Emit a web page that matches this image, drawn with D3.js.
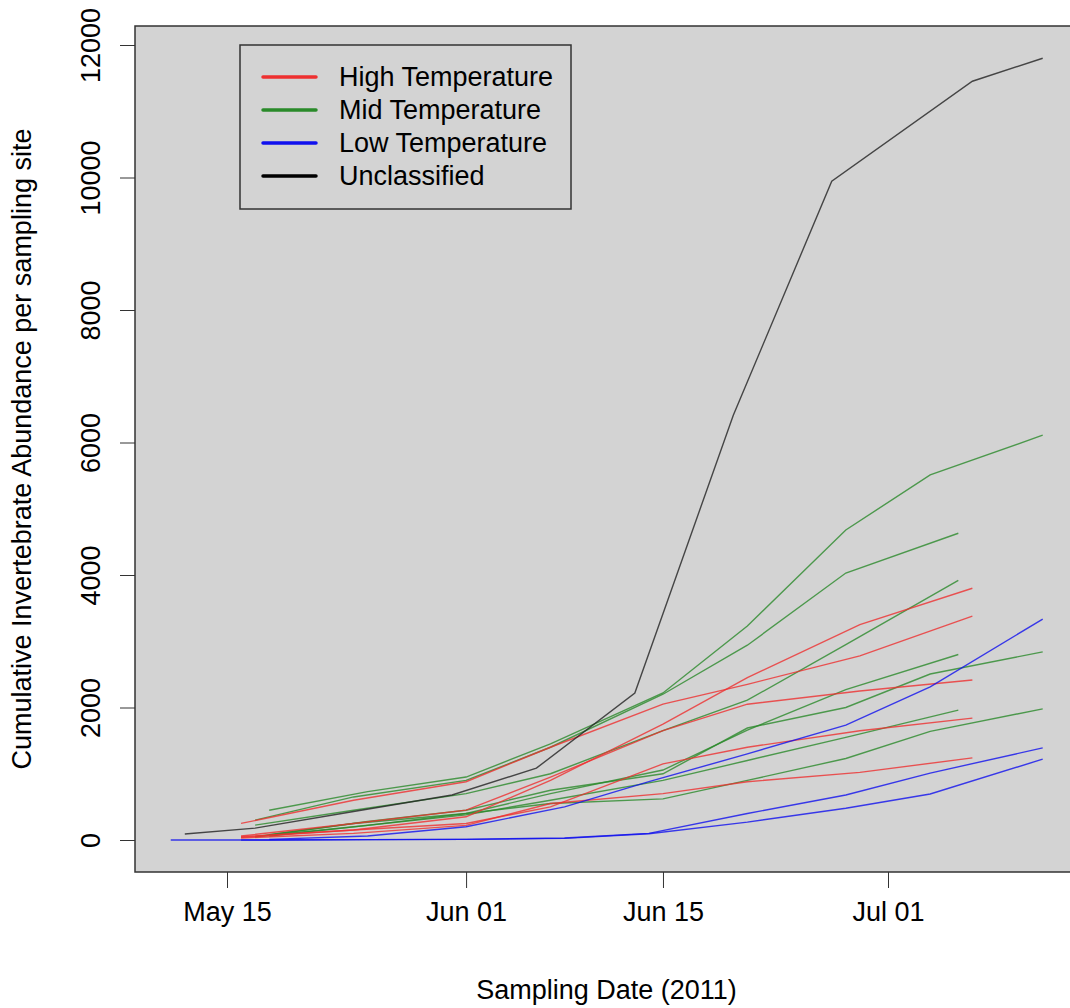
<!DOCTYPE html>
<html>
<head>
<meta charset="utf-8">
<script src="https://cdn.jsdelivr.net/npm/d3@7"></script>
<style>
  body { margin: 0; background: #fff; }
  text { font-family: "Liberation Sans", Arial, sans-serif; fill: #000; }
</style>
</head>
<body>
<div class="chart"></div>
<script>
// sampling dates (2011) and cumulative abundance per site
const highDates = ['2011-05-16', '2011-05-24', '2011-06-01', '2011-06-07', '2011-06-15', '2011-06-21', '2011-06-29', '2011-07-07'];
const highSites = [
    [50, 150, 350, 900, 1750, 2450, 3250, 3800],
    [250, 600, 880, 1400, 2050, 2350, 2780, 3380],
    [60, 250, 450, 950, 1650, 2050, 2250, 2415],
    [40, 150, 250, 500, 1150, 1400, 1650, 1840],
    [30, 100, 220, 550, 700, 880, 1020, 1240]
];

const midDatesA = ['2011-05-17', '2011-05-24', '2011-06-01', '2011-06-07', '2011-06-15', '2011-06-21', '2011-06-28', '2011-07-06'];
const midSitesA = [
    [300, 650, 900, 1400, 2200, 2940, 4030, 4630],
    [225, 450, 700, 1000, 1650, 2110, 2950, 3920],
    [50, 250, 400, 700, 1056, 1660, 2270, 2800],
    [50, 200, 380, 600, 900, 1200, 1550, 1960]
];

const midDatesB = ['2011-05-18', '2011-05-25', '2011-06-01', '2011-06-07', '2011-06-15', '2011-06-21', '2011-06-28', '2011-07-04', '2011-07-12'];
const midSitesB = [
    [450, 730, 950, 1450, 2220, 3230, 4680, 5510, 6110],
    [80, 280, 450, 750, 1000, 1690, 2000, 2505, 2840],
    [60, 220, 400, 550, 620, 900, 1230, 1640, 1980]
];

// null = site not yet sampled
const lowDates = ['2011-05-11', '2011-05-16', '2011-05-18', '2011-05-25', '2011-06-01', '2011-06-08', '2011-06-14', '2011-06-21', '2011-06-28', '2011-07-04', '2011-07-12'];
const lowSites = [
    [null, null, 10, 60, 200, 500, 880, 1300, 1735, 2310, 3335],
    [0, 0, 0, 5, 10, 30, 100, 400, 680, 1010, 1390],
    [null, 0, 0, 5, 10, 25, 95, 270, 480, 695, 1220]
];

const unclassDates = ['2011-05-12', '2011-05-17', '2011-05-24', '2011-05-31', '2011-06-06', '2011-06-13', '2011-06-20', '2011-06-27', '2011-07-07', '2011-07-12'];
const unclassSites = [
    [90, 180, 430, 680, 1085, 2218, 6410, 9945, 11453, 11800]
];

const yTicks = [0, 2000, 4000, 6000, 8000, 10000, 12000];
const xTicks = ['2011-05-15', '2011-06-01', '2011-06-15', '2011-07-01'];
const legendLabels = ['High Temperature', 'Mid Temperature', 'Low Temperature', 'Unclassified'];
const legendColors = ['#ee3030', '#2a8a2a', '#1010ee', '#000000'];

const parseDate = d3.timeParse('%Y-%m-%d');
const fontSize = '27px';

// turn a date list + value lists into arrays of points
function toSeries(dates, sites, color) {
    return sites.map(values => ({
        color: color,
        points: values.map((v, i) => ({ date: parseDate(dates[i]), value: v }))
    }));
}

const series = [
    ...toSeries(midDatesA, midSitesA, legendColors[1]),
    ...toSeries(midDatesB, midSitesB, legendColors[1]),
    ...toSeries(highDates, highSites, legendColors[0]),
    ...toSeries(lowDates, lowSites, legendColors[2]),
    ...toSeries(unclassDates, unclassSites, '#222')
];

const width = 1070;
const height = 1008;
const plot = { left: 135, right: 1078, top: 26, bottom: 872 };

const svg = d3.select('.chart')
    .append('svg')
    .attr('width', width)
    .attr('height', height);

// scales
const xScale = d3.scaleTime()
    .domain([parseDate('2011-05-15'), parseDate('2011-07-01')])
    .range([227, 888]);

const yScale = d3.scaleLinear()
    .domain([0, 12000])
    .range([840, 45]);

// plot background
svg.append('rect')
    .attr('x', plot.left)
    .attr('y', plot.top)
    .attr('width', plot.right - plot.left)
    .attr('height', plot.bottom - plot.top)
    .style('fill', '#d3d3d3');

// lines
const line = d3.line()
    .defined(d => d.value !== null)
    .x(d => xScale(d.date))
    .y(d => yScale(d.value));

svg.append('g')
    .selectAll('path')
    .data(series)
    .enter()
    .append('path')
    .attr('d', d => line(d.points))
    .style('fill', 'none')
    .style('stroke', d => d.color)
    .style('stroke-opacity', 0.8)
    .style('stroke-width', 1.4);

// box
svg.append('rect')
    .attr('x', plot.left)
    .attr('y', plot.top)
    .attr('width', plot.right - plot.left)
    .attr('height', plot.bottom - plot.top)
    .style('fill', 'none')
    .style('stroke', '#333')
    .style('stroke-width', 1.5);

// axes
const xAxis = d3.axisBottom(xScale)
    .tickValues(xTicks.map(parseDate))
    .tickFormat(d3.timeFormat('%b %d'))
    .tickSizeInner(16)
    .tickSizeOuter(0)
    .tickPadding(14);

const xAxisDraw = svg.append('g')
    .attr('transform', `translate(0,${plot.bottom})`)
    .call(xAxis);
xAxisDraw.select('.domain').remove();
xAxisDraw.selectAll('line').style('stroke', '#333');
xAxisDraw.selectAll('text')
    .style('font-size', fontSize)
    .style('font-family', '"Liberation Sans", Arial, sans-serif');

const yAxis = d3.axisLeft(yScale)
    .tickValues(yTicks)
    .tickFormat(d3.format('d'))
    .tickSizeInner(15)
    .tickSizeOuter(0);

const yAxisDraw = svg.append('g')
    .attr('transform', `translate(${plot.left},0)`)
    .call(yAxis);
yAxisDraw.select('.domain').remove();
yAxisDraw.selectAll('line').style('stroke', '#333');
// rotated labels, parallel to the axis
yAxisDraw.selectAll('text')
    .attr('x', null)
    .attr('dy', null)
    .attr('transform', 'translate(-35,0) rotate(-90)')
    .attr('text-anchor', 'middle')
    .style('font-size', fontSize)
    .style('font-family', '"Liberation Sans", Arial, sans-serif');

// axis titles
svg.append('text')
    .attr('x', (plot.left + plot.right) / 2)
    .attr('y', 999)
    .attr('text-anchor', 'middle')
    .style('font-size', fontSize)
    .text('Sampling Date (2011)');

svg.append('text')
    .attr('transform', `translate(31,${(plot.top + plot.bottom) / 2}) rotate(-90)`)
    .attr('text-anchor', 'middle')
    .style('font-size', fontSize)
    .text('Cumulative Invertebrate Abundance per sampling site');

// legend
const legend = svg.append('g').attr('transform', 'translate(240,45)');
legend.append('rect')
    .attr('width', 331)
    .attr('height', 164)
    .style('fill', '#d3d3d3')
    .style('stroke', '#333')
    .style('stroke-width', 1.5);

const items = legend.selectAll('.item')
    .data(legendLabels)
    .enter()
    .append('g')
    .attr('transform', (d, i) => `translate(0,${32 + i * 33})`);

items.append('line')
    .attr('x1', 23)
    .attr('x2', 76)
    .style('stroke', (d, i) => legendColors[i])
    .style('stroke-width', 3.5)
    .style('stroke-linecap', 'round');

items.append('text')
    .attr('x', 99)
    .attr('y', 9)
    .style('font-size', fontSize)
    .text(d => d);
</script>
</body>
</html>
